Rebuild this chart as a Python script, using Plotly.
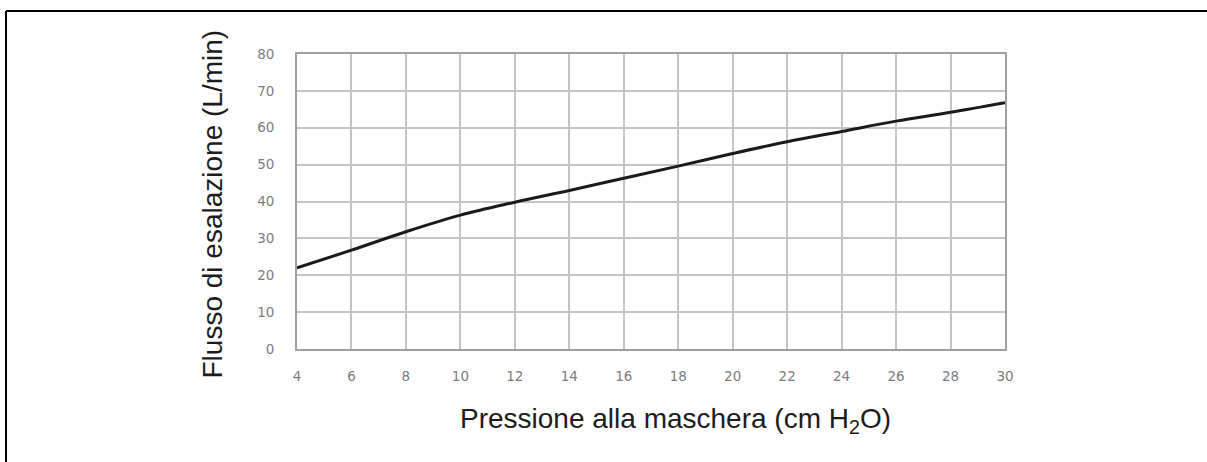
import plotly.graph_objects as go

pressure = [4, 6, 8, 10, 12, 14, 16, 18, 20, 22, 24, 26, 28, 30]
flow = [22, 26.8, 31.8, 36.3, 39.8, 43.0, 46.3, 49.6, 53.0, 56.2, 59.0, 61.8, 64.2, 66.8]
x_ticks = [4, 6, 8, 10, 12, 14, 16, 18, 20, 22, 24, 26, 28, 30]
y_ticks = [0, 10, 20, 30, 40, 50, 60, 70, 80]
x_title = "Pressione alla maschera (cm H<sub>2</sub>O)"
y_title = "Flusso di esalazione (L/min)"

fig = go.Figure()
fig.add_trace(go.Scatter(x=pressure, y=flow, mode="lines", line=dict(color="#1a1a1a", width=3, shape="spline"),
                         showlegend=False))

tick_font = dict(family="DejaVu Sans, sans-serif", size=13.5, color="#7c7c7c")
fig.update_layout(
    width=1207, height=462,
    margin=dict(l=297, r=202, t=54, b=113),
    paper_bgcolor="white", plot_bgcolor="white",
    font=dict(family="Liberation Sans, Arial, sans-serif"),
    xaxis=dict(range=[4, 30], tickvals=x_ticks, showgrid=True, gridcolor="#c4c4c4", gridwidth=1.6,
               zeroline=False, showline=True, linecolor="#a0a0a0", linewidth=1.8, mirror=True,
               tickfont=tick_font, ticklabelstandoff=14),
    yaxis=dict(range=[0, 80], tickvals=y_ticks, showgrid=True, gridcolor="#c4c4c4", gridwidth=1.6,
               zeroline=False, showline=True, linecolor="#a0a0a0", linewidth=1.8, mirror=True,
               tickfont=tick_font, ticklabelstandoff=18),
)

fig.add_annotation(text=x_title, xref="paper", yref="paper", x=0.534, y=-0.241,
                   xanchor="center", yanchor="middle", showarrow=False,
                   font=dict(size=28, color="#1c1c1c"))
fig.add_annotation(text=y_title, xref="paper", yref="paper", x=-0.12, y=0.49,
                   xanchor="center", yanchor="middle", showarrow=False, textangle=-90,
                   font=dict(size=28, color="#1c1c1c"))

# outer frame: top and left edges only are visible in the reference
fig.add_shape(type="line", xref="paper", yref="paper", x0=-0.411, x1=1.4, y0=1.146, y1=1.146,
              line=dict(color="black", width=2), layer="above")
fig.add_shape(type="line", xref="paper", yref="paper", x0=-0.411, x1=-0.411, y0=-1.0, y1=1.146,
              line=dict(color="black", width=2), layer="above")

fig.write_html("out.html", config={"displayModeBar": False},
               post_script="document.body.style.margin='0';document.body.style.overflow='hidden';")
